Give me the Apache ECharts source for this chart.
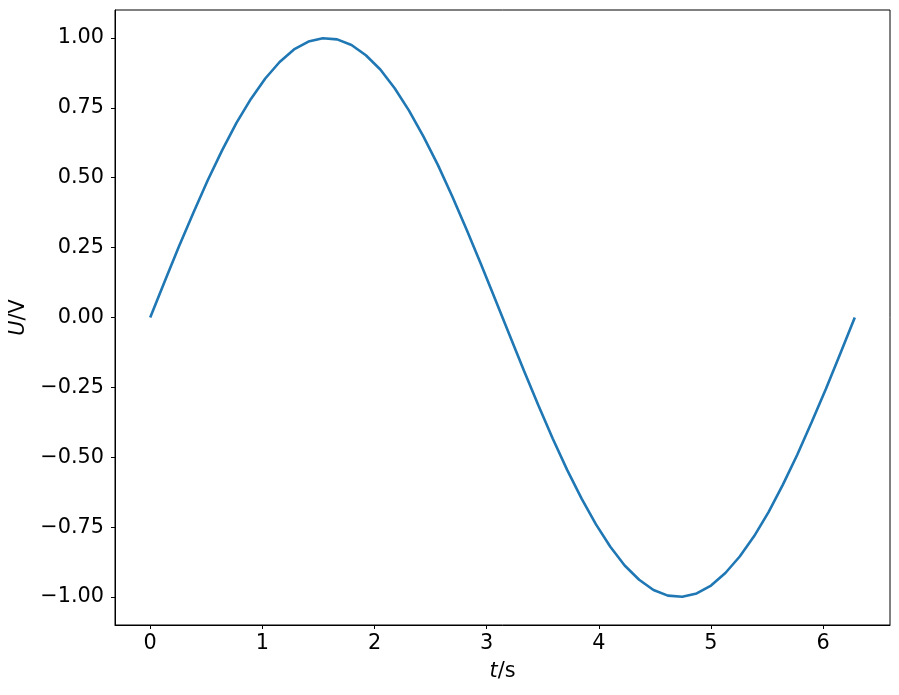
<!DOCTYPE html>
<html>
<head>
<meta charset="utf-8">
<script src="https://cdn.jsdelivr.net/npm/echarts@6/dist/echarts.min.js"></script>
<style>html,body{margin:0;padding:0;background:#fff}#c{width:899px;height:695px}</style>
</head>
<body>
<div id="c"></div>
<script>
const tValues = [0,0.128,0.256,0.385,0.513,0.641,0.769,0.898,1.026,1.154,1.282,1.411,1.539,1.667,1.795,1.923,2.052,2.180,2.308,2.436,2.565,2.693,2.821,2.949,3.077,3.206,3.334,3.462,3.590,3.719,3.847,3.975,4.103,4.231,4.360,4.488,4.616,4.744,4.873,5.001,5.129,5.257,5.386,5.514,5.642,5.770,5.898,6.027,6.155,6.283];
const uValues = [0,0.128,0.254,0.375,0.491,0.598,0.696,0.782,0.855,0.914,0.959,0.987,0.999,0.995,0.975,0.938,0.887,0.820,0.740,0.648,0.546,0.434,0.315,0.191,0.064,-0.064,-0.191,-0.315,-0.434,-0.546,-0.648,-0.740,-0.820,-0.887,-0.938,-0.975,-0.995,-0.999,-0.987,-0.959,-0.914,-0.855,-0.782,-0.696,-0.598,-0.491,-0.375,-0.254,-0.128,0];
const xTicks = [0,1,2,3,4,5,6];
const yTicks = [-1.00,-0.75,-0.50,-0.25,0.00,0.25,0.50,0.75,1.00];

const points = tValues.map((t,i)=>[t,uValues[i]]);
const font = 'DejaVu Sans';
const fs = 20.8;
const chart = echarts.init(document.getElementById('c'), null, {renderer:'canvas'});
chart.setOption({
  animation:false,
  backgroundColor:'#fff',
  grid:{left:115,right:9,top:10,bottom:70,show:true,borderColor:'#000',borderWidth:1,containLabel:false},
  xAxis:{
    type:'value', min:-0.314, max:6.597,
    name:'{i|t}{n|/s}', nameLocation:'middle', nameGap:36,
    nameTextStyle:{rich:{i:{fontFamily:font,fontSize:fs,fontStyle:'italic',color:'#000'},n:{fontFamily:font,fontSize:fs,color:'#000'}}},
    axisLine:{show:true,onZero:false,lineStyle:{color:'#000',width:1}},
    axisTick:{show:true,inside:false,length:4,lineStyle:{color:'#000'},customValues:xTicks},
    axisLabel:{customValues:xTicks,fontFamily:font,fontSize:fs,color:'#000',margin:8,formatter:v=>String(v).replace('-','\u2212')},
    splitLine:{show:false}
  },
  yAxis:{
    type:'value', min:-1.1, max:1.1,
    name:'{i|U}{n|/V}', nameLocation:'middle', nameGap:85, nameRotate:90,
    nameTextStyle:{rich:{i:{fontFamily:font,fontSize:fs,fontStyle:'italic',color:'#000'},n:{fontFamily:font,fontSize:fs,color:'#000'}}},
    axisLine:{show:true,onZero:false,lineStyle:{color:'#000',width:1}},
    axisTick:{show:true,inside:false,length:4,lineStyle:{color:'#000'},customValues:yTicks},
    axisLabel:{customValues:yTicks,fontFamily:font,fontSize:fs,color:'#000',margin:11,formatter:v=>v.toFixed(2).replace('-','\u2212')},
    splitLine:{show:false}
  },
  series:[{
    type:'line', data:points, showSymbol:false, symbol:'none',
    lineStyle:{color:'#1f77b4',width:2.6}, itemStyle:{color:'#1f77b4'}, clip:true
  }]
});
</script>
</body>
</html>
